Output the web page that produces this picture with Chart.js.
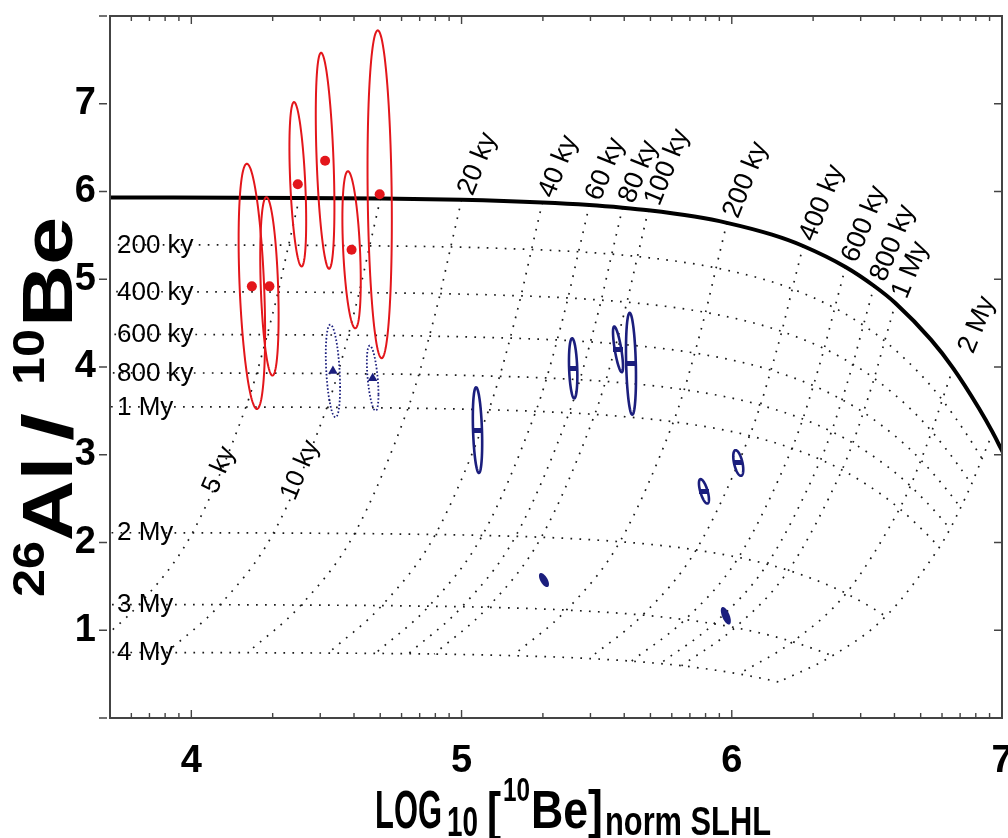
<!DOCTYPE html>
<html><head><meta charset="utf-8">
<script src="https://cdn.jsdelivr.net/npm/chart.js@4.4.1/dist/chart.umd.min.js"></script>
<style>html,body{margin:0;padding:0;background:#fff;}#wrap{width:1008px;height:838px;}</style>
</head><body><div id="wrap"><canvas id="c" width="1008" height="838"></canvas></div>
<script>
// ---------- axis ticks ----------
const xMajorTicks = [4, 5, 6, 7];
const xTickLabels = ['4', '5', '6', '7'];
const xMinorTicks = [3.778, 3.845, 3.903, 3.954,
  4.301, 4.477, 4.602, 4.699, 4.778, 4.845, 4.903, 4.954,
  5.301, 5.477, 5.602, 5.699, 5.778, 5.845, 5.903, 5.954,
  6.301, 6.477, 6.602, 6.699, 6.778, 6.845, 6.903, 6.954];
const yLabelTicks = [1, 2, 3, 4, 5, 6, 7];
const yMarkTicks = [0, 1, 2, 3, 4, 5, 6, 7, 8];

// ---------- burial grid ----------
const exposureTimesKy = [1, 5, 10, 20, 40, 60, 80, 100, 150, 200, 300, 400, 600, 800, 1000, 1500, 2000, 3000, 4000];
// surface (no burial) curve, solid
const surfaceX = [3.701, 4.400, 4.700, 5.000, 5.299, 5.473, 5.596, 5.691, 5.862, 5.982, 6.149, 6.264, 6.421, 6.527, 6.606, 6.737, 6.819, 6.914, 6.966, 6.995, 7.013];
const surfaceY = [5.933, 5.927, 5.920, 5.905, 5.874, 5.845, 5.815, 5.786, 5.714, 5.643, 5.508, 5.379, 5.140, 4.923, 4.727, 4.312, 3.988, 3.533, 3.252, 3.078, 2.969];
// constant burial-time lines
const bur200X = [3.661, 4.360, 4.660, 4.960, 5.259, 5.433, 5.556, 5.651, 5.822, 5.942, 6.109, 6.224, 6.381, 6.487, 6.566, 6.697, 6.779, 6.874, 6.926];
const bur200Y = [5.393, 5.388, 5.381, 5.368, 5.339, 5.313, 5.286, 5.259, 5.194, 5.129, 5.007, 4.890, 4.672, 4.475, 4.297, 3.920, 3.625, 3.211, 2.956];
const bur400X = [3.622, 4.321, 4.621, 4.921, 5.220, 5.394, 5.517, 5.612, 5.783, 5.903, 6.070, 6.185, 6.342, 6.448, 6.527, 6.658, 6.740, 6.835, 6.887];
const bur400Y = [4.859, 4.854, 4.848, 4.836, 4.811, 4.787, 4.762, 4.739, 4.680, 4.622, 4.511, 4.405, 4.210, 4.032, 3.871, 3.532, 3.266, 2.894, 2.663];
const bur600X = [3.582, 4.281, 4.581, 4.881, 5.180, 5.354, 5.477, 5.572, 5.743, 5.863, 6.030, 6.145, 6.302, 6.408, 6.487, 6.618, 6.700, 6.795, 6.847];
const bur600Y = [4.373, 4.368, 4.363, 4.352, 4.329, 4.308, 4.286, 4.264, 4.211, 4.159, 4.059, 3.964, 3.788, 3.628, 3.484, 3.178, 2.939, 2.604, 2.397];
const bur800X = [3.543, 4.242, 4.542, 4.842, 5.141, 5.315, 5.438, 5.533, 5.704, 5.824, 5.991, 6.106, 6.263, 6.369, 6.448, 6.579, 6.661, 6.756, 6.808];
const bur800Y = [3.934, 3.930, 3.925, 3.915, 3.894, 3.875, 3.855, 3.836, 3.788, 3.741, 3.652, 3.566, 3.408, 3.264, 3.134, 2.859, 2.644, 2.342, 2.156];
const bur1000X = [3.503, 4.202, 4.502, 4.802, 5.101, 5.275, 5.398, 5.493, 5.664, 5.784, 5.951, 6.066, 6.223, 6.329, 6.408, 6.539, 6.621, 6.716, 6.768];
const bur1000Y = [3.548, 3.544, 3.540, 3.531, 3.513, 3.495, 3.477, 3.460, 3.417, 3.375, 3.294, 3.217, 3.074, 2.944, 2.827, 2.579, 2.385, 2.113, 1.945];
const bur2000X = [3.305, 4.004, 4.304, 4.604, 4.903, 5.077, 5.200, 5.295, 5.466, 5.586, 5.753, 5.868, 6.025, 6.131, 6.210, 6.341, 6.423, 6.518, 6.570];
const bur2000Y = [2.112, 2.110, 2.108, 2.102, 2.091, 2.081, 2.070, 2.060, 2.034, 2.009, 1.961, 1.915, 1.830, 1.753, 1.683, 1.535, 1.420, 1.258, 1.158];
const bur3000X = [3.107, 3.806, 4.106, 4.406, 4.705, 4.879, 5.002, 5.097, 5.268, 5.388, 5.555, 5.670, 5.827, 5.933, 6.012, 6.143, 6.225, 6.320, 6.372];
const bur3000Y = [1.293, 1.292, 1.291, 1.287, 1.281, 1.274, 1.268, 1.261, 1.246, 1.230, 1.201, 1.173, 1.121, 1.073, 1.030, 0.940, 0.869, 0.770, 0.709];
const bur4000X = [2.909, 3.608, 3.908, 4.208, 4.507, 4.681, 4.804, 4.899, 5.070, 5.190, 5.357, 5.472, 5.629, 5.735, 5.814, 5.945, 6.027, 6.122, 6.174];
const bur4000Y = [0.748, 0.747, 0.746, 0.744, 0.740, 0.736, 0.733, 0.729, 0.720, 0.711, 0.694, 0.678, 0.648, 0.620, 0.596, 0.543, 0.502, 0.445, 0.410];
const burialLineLabels = ['200 ky', '400 ky', '600 ky', '800 ky', '1 My', '2 My', '3 My', '4 My'];
const exposureLineTimesKy = [5, 10, 20, 40, 60, 80, 100, 200, 400, 600, 800, 1000, 2000, 4000];
const exposureLineLabels = ['5 ky', '10 ky', '20 ky', '40 ky', '60 ky', '80 ky', '100 ky', '200 ky', '400 ky', '600 ky', '800 ky', '1 My', '2 My', ''];

// ---------- samples (centre, half-axes, correlation) ----------
const redX = [4.224, 4.289, 4.394, 4.495, 4.593, 4.697];
const redY = [4.919, 4.919, 6.082, 6.350, 5.336, 5.968];
const redSx = [0.049, 0.034, 0.031, 0.0345, 0.034, 0.045];
const redSy = [1.397, 1.017, 0.937, 1.231, 0.895, 1.868];
const redRho = [-0.38, -0.33, -0.45, -0.43, -0.40, -0.16];

const triX = [4.524, 4.671];
const triY = [3.955, 3.873];
const triSx = [0.0265, 0.0215];
const triSy = [0.528, 0.371];
const triRho = [-0.36, -0.5];

const barX = [5.059, 5.413, 5.579, 5.627, 5.897, 6.024];
const barY = [3.280, 3.985, 4.201, 4.036, 2.583, 2.906];
const barSx = [0.0173, 0.0155, 0.0185, 0.0185, 0.0185, 0.0185];
const barSy = [0.488, 0.342, 0.26, 0.580, 0.139, 0.146];
const barRho = [-0.3, -0.25, -0.75, -0.26, -0.66, -0.52];

const fillX = [5.305, 5.978];
const fillY = [1.572, 1.165];
const fillSx = [0.0185, 0.0185];
const fillSy = [0.08, 0.10];
const fillRho = [-0.6, -0.6];

// ---------- styles ----------
const RED = '#e3161b';
const NAVY = '#1b1e7d';
const DOT = '#1a1a1a';
const FAM = "'Liberation Sans', Arial, sans-serif";
const LABEL_FONT = '26px ' + FAM;
const TOP_LABEL_FONT = '27px ' + FAM;

const rowsX = [bur200X, bur400X, bur600X, bur800X, bur1000X, bur2000X, bur3000X, bur4000X];
const rowsY = [bur200Y, bur400Y, bur600Y, bur800Y, bur1000Y, bur2000Y, bur3000Y, bur4000Y];
const zip = (xs, ys) => xs.map((v, i) => ({x: v, y: ys[i]}));
const colPoints = (t) => {
  const c = exposureTimesKy.indexOf(t);
  return [{x: surfaceX[c], y: surfaceY[c]}].concat(rowsX.map((r, k) => ({x: r[c], y: rowsY[k][c]})));
};

// bar marker image (horizontal dash)
const barMark = document.createElement('canvas');
barMark.width = 10; barMark.height = 5;
(function () { const g = barMark.getContext('2d'); g.fillStyle = NAVY; g.fillRect(0, 0, 10, 5); })();

const dotted = {showLine: true, borderColor: DOT, borderWidth: 1.7, borderDash: [1.7, 7.3],
  pointRadius: 0, fill: false, cubicInterpolationMode: 'monotone'};

const datasets = [
  {data: zip(redX, redY), pointRadius: 5, pointBackgroundColor: RED, pointBorderWidth: 0, pointStyle: 'circle'},
  {data: zip(triX, triY), pointRadius: 5.5, pointBackgroundColor: NAVY, pointBorderWidth: 0, pointStyle: 'triangle'},
  {data: zip(barX, barY), pointRadius: 5, pointStyle: barMark},
  {data: zip(surfaceX, surfaceY), showLine: true, borderColor: '#000', borderWidth: 4, pointRadius: 0, cubicInterpolationMode: 'monotone'}
];
rowsX.forEach((r, k) => datasets.push(Object.assign({data: zip(r, rowsY[k])}, dotted)));
exposureLineTimesKy.forEach(t => datasets.push(Object.assign({data: colPoints(t)}, dotted)));

function ellipsePath(ctx, xs, ys, cx, cy, sx, sy, rho) {
  const n = 120, k = Math.sqrt(1 - rho * rho);
  ctx.beginPath();
  for (let i = 0; i <= n; i++) {
    const th = 2 * Math.PI * i / n;
    const px = xs.getPixelForValue(cx + sx * Math.cos(th));
    const py = ys.getPixelForValue(cy + sy * (rho * Math.cos(th) + k * Math.sin(th)));
    if (i) ctx.lineTo(px, py); else ctx.moveTo(px, py);
  }
  ctx.closePath();
}

// draw text segments, each squeezed into its own box (x0, width) on baseline y
function drawSegs(ctx, segs) {
  ctx.save();
  ctx.textAlign = 'left'; ctx.textBaseline = 'alphabetic'; ctx.fillStyle = '#000';
  segs.forEach(s => {
    ctx.font = s.font;
    const w = ctx.measureText(s.t).width;
    ctx.save(); ctx.translate(s.x, s.y); ctx.scale(s.w / w, 1); ctx.fillText(s.t, 0, 0); ctx.restore();
  });
  ctx.restore();
}

const overlay = {
  id: 'overlay',
  afterDatasetsDraw(chart) {
    const {ctx, chartArea: a} = chart;
    const xs = chart.scales.x, ys = chart.scales.y;
    ctx.save();
    ctx.beginPath(); ctx.rect(a.left, a.top, a.right - a.left, a.bottom - a.top); ctx.clip();
    ctx.strokeStyle = RED; ctx.lineWidth = 2;
    redX.forEach((v, i) => { ellipsePath(ctx, xs, ys, v, redY[i], redSx[i], redSy[i], redRho[i]); ctx.stroke(); });
    ctx.strokeStyle = NAVY; ctx.lineWidth = 1.8; ctx.setLineDash([1.6, 2.0]);
    triX.forEach((v, i) => { ellipsePath(ctx, xs, ys, v, triY[i], triSx[i], triSy[i], triRho[i]); ctx.stroke(); });
    ctx.setLineDash([]); ctx.lineWidth = 2.6;
    barX.forEach((v, i) => { ellipsePath(ctx, xs, ys, v, barY[i], barSx[i], barSy[i], barRho[i]); ctx.stroke(); });
    ctx.fillStyle = NAVY;
    fillX.forEach((v, i) => { ellipsePath(ctx, xs, ys, v, fillY[i], fillSx[i], fillSy[i], fillRho[i]); ctx.fill(); });
    ctx.restore();

    // grid labels
    ctx.save();
    ctx.fillStyle = '#000';
    ctx.textAlign = 'left'; ctx.textBaseline = 'middle';
    ctx.font = LABEL_FONT;
    burialLineLabels.forEach((lab, k) => {
      ctx.fillText(lab, a.left + 7, ys.getPixelForValue(rowsY[k][2]));
    });
    exposureLineLabels.forEach((lab, i) => {
      if (!lab) return;
      const t = exposureLineTimesKy[i];
      const c = exposureTimesKy.indexOf(t);
      ctx.save();
      if (t < 20) {
        ctx.font = LABEL_FONT;
        const p1x = xs.getPixelForValue(bur1000X[c]), p1y = ys.getPixelForValue(bur1000Y[c]);
        const p2x = xs.getPixelForValue(bur2000X[c]), p2y = ys.getPixelForValue(bur2000Y[c]);
        ctx.translate((p1x + p2x) / 2, (p1y + p2y) / 2);
        ctx.rotate(Math.atan2(p1y - p2y, p1x - p2x));
        ctx.textAlign = 'center';
      } else {
        ctx.font = TOP_LABEL_FONT;
        const px = xs.getPixelForValue(surfaceX[c]), py = ys.getPixelForValue(surfaceY[c]);
        if (t === 2000) ctx.translate(px + 13, py - 16); else ctx.translate(px + 4, py - 6);
        ctx.rotate(-68 * Math.PI / 180);
        ctx.textAlign = 'left';
      }
      ctx.fillText(lab, 0, 0);
      ctx.restore();
    });
    ctx.restore();

    // frame and ticks
    ctx.save();
    ctx.strokeStyle = '#444'; ctx.lineWidth = 2;
    ctx.strokeRect(a.left, a.top, a.right - a.left, a.bottom - a.top);
    ctx.lineWidth = 1.4; ctx.beginPath();
    xMajorTicks.forEach(v => { const p = xs.getPixelForValue(v);
      ctx.moveTo(p, a.bottom); ctx.lineTo(p, a.bottom - 8); ctx.moveTo(p, a.top); ctx.lineTo(p, a.top + 8); });
    xMinorTicks.forEach(v => { const p = xs.getPixelForValue(v);
      ctx.moveTo(p, a.bottom); ctx.lineTo(p, a.bottom - 5); ctx.moveTo(p, a.top); ctx.lineTo(p, a.top + 5); });
    yMarkTicks.forEach(v => { const p = ys.getPixelForValue(v);
      ctx.moveTo(a.left - 11, p); ctx.lineTo(a.left - 3, p); ctx.moveTo(a.right, p); ctx.lineTo(a.right - 8, p); });
    ctx.stroke();
    ctx.restore();
  },
  afterDraw(chart) {
    const ctx = chart.ctx;
    // x-axis title: LOG10 [10Be] norm SLHL
    drawSegs(ctx, [
      {t: 'LOG', font: 'bold 54px ' + FAM, x: 375, w: 67, y: 828},
      {t: '10', font: 'bold 42px ' + FAM, x: 447, w: 31, y: 836},
      {t: '[', font: 'bold 54px ' + FAM, x: 487, w: 14, y: 830},
      {t: '10', font: 'bold 34px ' + FAM, x: 503, w: 27, y: 801},
      {t: 'Be]', font: 'bold 54px ' + FAM, x: 531, w: 72, y: 828},
      {t: 'norm SLHL', font: 'bold 40px ' + FAM, x: 605, w: 166, y: 835}
    ]);
    // y-axis title: 26Al / 10Be (rotated; local x = -screenY, local y = screenX)
    ctx.save();
    ctx.rotate(-Math.PI / 2);
    drawSegs(ctx, [
      {t: '26', font: 'bold 44px ' + FAM, x: -597, w: 56, y: 44},
      {t: 'Al', font: 'bold 70px ' + FAM, x: -541, w: 84, y: 72},
      {t: '/', font: 'bold 70px ' + FAM, x: -441, w: 28, y: 72},
      {t: '10', font: 'bold 44px ' + FAM, x: -385, w: 56, y: 44},
      {t: 'Be', font: 'bold 70px ' + FAM, x: -327, w: 110, y: 72}
    ]);
    ctx.restore();
  }
};

new Chart(document.getElementById('c'), {
  type: 'scatter',
  data: {datasets},
  options: {
    responsive: false, animation: false, devicePixelRatio: 1,
    layout: {padding: {left: 0, right: 5, top: 16, bottom: 0}},
    plugins: {legend: {display: false}, tooltip: {enabled: false}},
    scales: {
      x: {type: 'linear', min: 3.699, max: 7.0,
        grid: {display: false, drawTicks: false}, border: {display: false},
        afterBuildTicks: s => { s.ticks = xMajorTicks.map(v => ({value: v})); },
        afterFit: s => { s.height = 120; s.paddingLeft = 0; s.paddingRight = 0; },
        ticks: {padding: 21, color: '#000', maxRotation: 0, autoSkip: false,
          font: {family: FAM, weight: 'bold', size: 38},
          callback: (v) => xTickLabels[xMajorTicks.indexOf(v)] ?? ''}},
      y: {type: 'linear', min: 0, max: 8,
        grid: {display: false, drawTicks: false}, border: {display: false},
        afterBuildTicks: s => { s.ticks = yLabelTicks.map(v => ({value: v})); },
        afterFit: s => { s.width = 110; s.paddingTop = 0; s.paddingBottom = 0; },
        ticks: {padding: 14, color: '#000', autoSkip: false,
          font: {family: FAM, weight: 'bold', size: 38},
          callback: (v) => String(v)}}
    }
  },
  plugins: [overlay]
});
</script></body></html>
